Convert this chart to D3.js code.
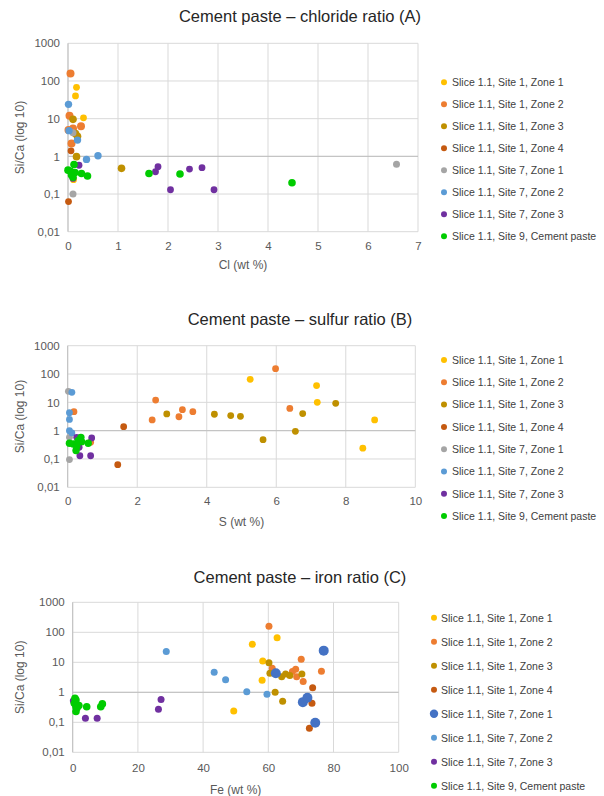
<!DOCTYPE html>
<html><head><meta charset="utf-8">
<script src="https://cdn.jsdelivr.net/npm/d3@7"></script>
<style>
body{margin:0;background:#fff;}
svg{display:block;font-family:"Liberation Sans",Arial,sans-serif;}
</style></head>
<body><svg id="c" width="604" height="796"></svg>
<script>
// ---------- DATA ----------
const seriesNamesAB = ["Slice 1.1, Site 1, Zone 1","Slice 1.1, Site 1, Zone 2","Slice 1.1, Site 1, Zone 3","Slice 1.1, Site 1, Zone 4","Slice 1.1, Site 7, Zone 1","Slice 1.1, Site 7, Zone 2","Slice 1.1, Site 7, Zone 3","Slice 1.1, Site 9, Cement paste"];
const seriesNamesC = seriesNamesAB;
const yTicks = [0.01, 0.1, 1, 10, 100, 1000];
const yTickLabels = ["0,01","0,1","1","10","100","1000"];
const xTicksA = [0,1,2,3,4,5,6,7];
const xTicksB = [0,2,4,6,8,10];
const xTicksC = [0,20,40,60,80,100];

// Chart A: Cl (wt %) vs Si/Ca
const chlorideZone1 = [[0.17,68],[0.15,40],[0.31,10.5],[0.11,0.24]];
const chlorideZone2 = [[0.05,158],[0.03,12],[0.26,6.3],[0.01,5],[0.1,5.5],[0.07,2.2]];
const chlorideZone3 = [[0.1,9.6],[0.19,3.4],[0.15,4.0],[0.17,0.98],[1.07,0.48]];
const chlorideZone4 = [[0.06,1.4],[0.01,0.063]];
const chlorideSite7Zone1 = [[0.1,4.2],[0.1,0.1],[6.57,0.62]];
const chlorideSite7Zone2 = [[0.01,24],[0.02,4.8],[0.19,2.7],[0.37,0.83],[0.6,1.04]];
const chlorideSite7Zone3 = [[0.22,0.58],[0.1,0.26],[1.75,0.39],[1.8,0.53],[2.05,0.13],[2.43,0.46],[2.68,0.5],[2.92,0.13]];
const chlorideSite9 = [[0,0.43],[0.12,0.61],[0.07,0.32],[0.14,0.37],[0.27,0.35],[0.39,0.3],[0.1,0.28],[0.05,0.4],[1.62,0.35],[2.24,0.34],[4.48,0.2]];

// Chart B: S (wt %) vs Si/Ca
const sulfurZone1 = [[5.25,65],[7.16,39],[7.18,10],[8.83,2.4],[8.49,0.24]];
const sulfurZone2 = [[0.18,4.7],[0.66,0.39],[2.53,12],[2.43,2.4],[3.2,3.1],[3.3,5.5],[3.6,4.7],[5.98,155],[6.39,6.1]];
const sulfurZone3 = [[2.85,3.9],[4.22,3.8],[4.69,3.4],[4.97,3.2],[5.62,0.48],[6.76,4],[6.55,0.95],[7.71,9.2]];
const sulfurZone4 = [[1.61,1.38],[1.44,0.063]];
const sulfurSite7Zone1 = [[0.02,24.5],[0.05,0.58],[0.05,0.095]];
const sulfurSite7Zone2 = [[0.12,22.6],[0.05,4.3],[0.05,2.5],[0.05,1.0],[0.12,0.83]];
const sulfurSite7Zone3 = [[0.26,0.58],[0.69,0.55],[0.35,0.13],[0.66,0.13],[0.33,0.26]];
const sulfurSite9 = [[0.05,0.36],[0.16,0.34],[0.38,0.58],[0.26,0.28],[0.24,0.2],[0.59,0.36],[0.4,0.41],[0.3,0.44]];

// Chart C: Fe (wt %) vs Si/Ca
const ironZone1 = [[55.1,40],[58.3,11],[58.1,2.5],[49.4,0.24],[62.7,66]];
const ironZone2 = [[60.2,158],[61.2,6.3],[67.4,4.9],[68.4,5.9],[68.7,3.3],[70.1,12.6],[70.7,2.3],[76.3,5.0]];
const ironZone3 = [[60.2,9.7],[60.5,4.3],[64.1,3.3],[65.3,4.1],[66.6,3.6],[70.3,4.1],[62.1,1.0],[64.4,0.5]];
const ironZone4 = [[73.6,1.42],[73.4,0.43],[72.6,0.063]];
const ironSite7Zone1 = [[62.3,4.3],[77.0,24.5],[70.6,0.47],[72,0.66],[74.4,0.097]];
const ironSite7Zone2 = [[28.7,23],[43.4,4.7],[46.9,2.6],[53.4,1.05],[59.6,0.86]];
const ironSite7Zone3 = [[27.1,0.58],[26.3,0.27],[3.9,0.136],[7.5,0.136],[0.2,0.52]];
const ironSite9 = [[0.7,0.63],[0.5,0.43],[1.0,0.33],[1.0,0.23],[1.9,0.36],[4.3,0.33],[8.6,0.33],[9.1,0.41],[1.0,0.55],[1.3,0.3]];

// ---------- STYLES ----------
const colorsAB = ["#FFC000","#ED7D31","#BF9000","#C55A11","#A5A5A5","#5B9BD5","#7030A0","#00CC00"];
const colorsC  = ["#FFC000","#ED7D31","#BF9000","#C55A11","#4472C4","#5B9BD5","#7030A0","#00CC00"];
const radiiA = [3.4,4.0,3.8,3.4,3.5,3.7,3.4,3.8];
const radiiB = [3.4,3.4,3.4,3.4,3.4,3.4,3.4,3.7];
const radiiC = [3.5,3.5,3.5,3.5,5.0,3.5,3.5,3.8];

const charts = [
  {title:"Cement paste – chloride ratio (A)", xLabel:"Cl (wt %)", series:[chlorideZone1,chlorideZone2,chlorideZone3,chlorideZone4,chlorideSite7Zone1,chlorideSite7Zone2,chlorideSite7Zone3,chlorideSite9],
   names:seriesNamesAB, colors:colorsAB, radii:radiiA, xDomain:[0,7], xTicks:xTicksA,
   box:{l:68,r:418,t:43.3,b:231.7}, titleY:22, tickY:251, xLabelY:269,
   legend:{x:444,y0:82.3,dy:22,tx:452,r:3}},
  {title:"Cement paste – sulfur ratio (B)", xLabel:"S (wt %)", series:[sulfurZone1,sulfurZone2,sulfurZone3,sulfurZone4,sulfurSite7Zone1,sulfurSite7Zone2,sulfurSite7Zone3,sulfurSite9],
   names:seriesNamesAB, colors:colorsAB, radii:radiiB, xDomain:[0,10], xTicks:xTicksB,
   box:{l:67.7,r:415.3,t:345.7,b:487.3}, titleY:325, tickY:506, xLabelY:526,
   legend:{x:444,y0:360,dy:22.3,tx:452,r:3}},
  {title:"Cement paste – iron ratio (C)", xLabel:"Fe (wt %)", series:[ironZone1,ironZone2,ironZone3,ironZone4,ironSite7Zone1,ironSite7Zone2,ironSite7Zone3,ironSite9],
   names:seriesNamesC, colors:colorsC, radii:radiiC, xDomain:[0,100], xTicks:xTicksC,
   box:{l:72.7,r:398.7,t:602.3,b:752.3}, titleY:583, tickY:773, xLabelY:794,
   legend:{x:434,y0:617.7,dy:24,tx:441,r:3}, legendBig:[4]}
];

const svg = d3.select("#c");
charts.forEach(ch => {
  const b = ch.box;
  const x = d3.scaleLinear().domain(ch.xDomain).range([b.l,b.r]);
  const y = d3.scaleLog().domain([0.01,1000]).range([b.b,b.t]);
  const g = svg.append("g");

  g.append("g").selectAll("line").data(yTicks).join("line")
    .attr("x1",b.l).attr("x2",b.r).attr("y1",d=>y(d)).attr("y2",d=>y(d))
    .attr("stroke","#D9D9D9").attr("stroke-width",1);
  g.append("g").selectAll("line").data(ch.xTicks).join("line")
    .attr("x1",d=>x(d)).attr("x2",d=>x(d)).attr("y1",b.t).attr("y2",b.b)
    .attr("stroke","#D9D9D9").attr("stroke-width",1);
  g.append("line").attr("x1",b.l).attr("x2",b.r).attr("y1",y(1)).attr("y2",y(1))
    .attr("stroke","#BFBFBF").attr("stroke-width",1);
  g.append("line").attr("x1",x(0)).attr("x2",x(0)).attr("y1",b.t).attr("y2",b.b)
    .attr("stroke","#BFBFBF").attr("stroke-width",1);

  const yAxis = d3.axisLeft(y).tickValues(yTicks).tickFormat((d,i)=>yTickLabels[i]).tickSize(0).tickPadding(8);
  const ya = g.append("g").attr("transform",`translate(${b.l},0)`).call(yAxis);
  ya.select(".domain").remove();
  ya.selectAll("text").attr("font-size","11.5px").attr("fill","#595959").attr("font-family","Liberation Sans, Arial, sans-serif");

  const xAxis = d3.axisBottom(x).tickValues(ch.xTicks).tickFormat(d3.format("d")).tickSize(0).tickPadding(0);
  const xa = g.append("g").attr("transform",`translate(0,${ch.tickY-9})`).call(xAxis);
  xa.select(".domain").remove();
  xa.selectAll("text").attr("font-size","11.5px").attr("fill","#595959").attr("font-family","Liberation Sans, Arial, sans-serif");

  g.append("text").attr("x",(b.l+b.r)/2).attr("y",ch.xLabelY).attr("text-anchor","middle")
    .attr("font-size","12px").attr("fill","#595959").text(ch.xLabel);
  g.append("text").attr("transform",`translate(24,${(b.t+b.b)/2}) rotate(-90)`).attr("text-anchor","middle")
    .attr("font-size","12px").attr("fill","#595959").text("Si/Ca (log 10)");

  g.append("text").attr("x",300).attr("y",ch.titleY).attr("text-anchor","middle")
    .attr("font-size","16.5px").attr("fill","#262626").text(ch.title);

  ch.series.forEach((s,i) => {
    g.append("g").selectAll("circle").data(s).join("circle")
      .attr("cx",d=>x(d[0])).attr("cy",d=>y(d[1])).attr("r",ch.radii[i])
      .attr("fill",ch.colors[i]);
  });

  const L = ch.legend;
  ch.names.forEach((n,i) => {
    const yy = L.y0 + i*L.dy;
    const big = ch.legendBig && ch.legendBig.includes(i);
    g.append("circle").attr("cx",L.x).attr("cy",yy).attr("r",big?4.2:L.r).attr("fill",ch.colors[i]);
    g.append("text").attr("x",L.tx).attr("y",yy+3.8).attr("font-size","10.5px").attr("fill","#404040").text(n);
  });
});
</script></body></html>
